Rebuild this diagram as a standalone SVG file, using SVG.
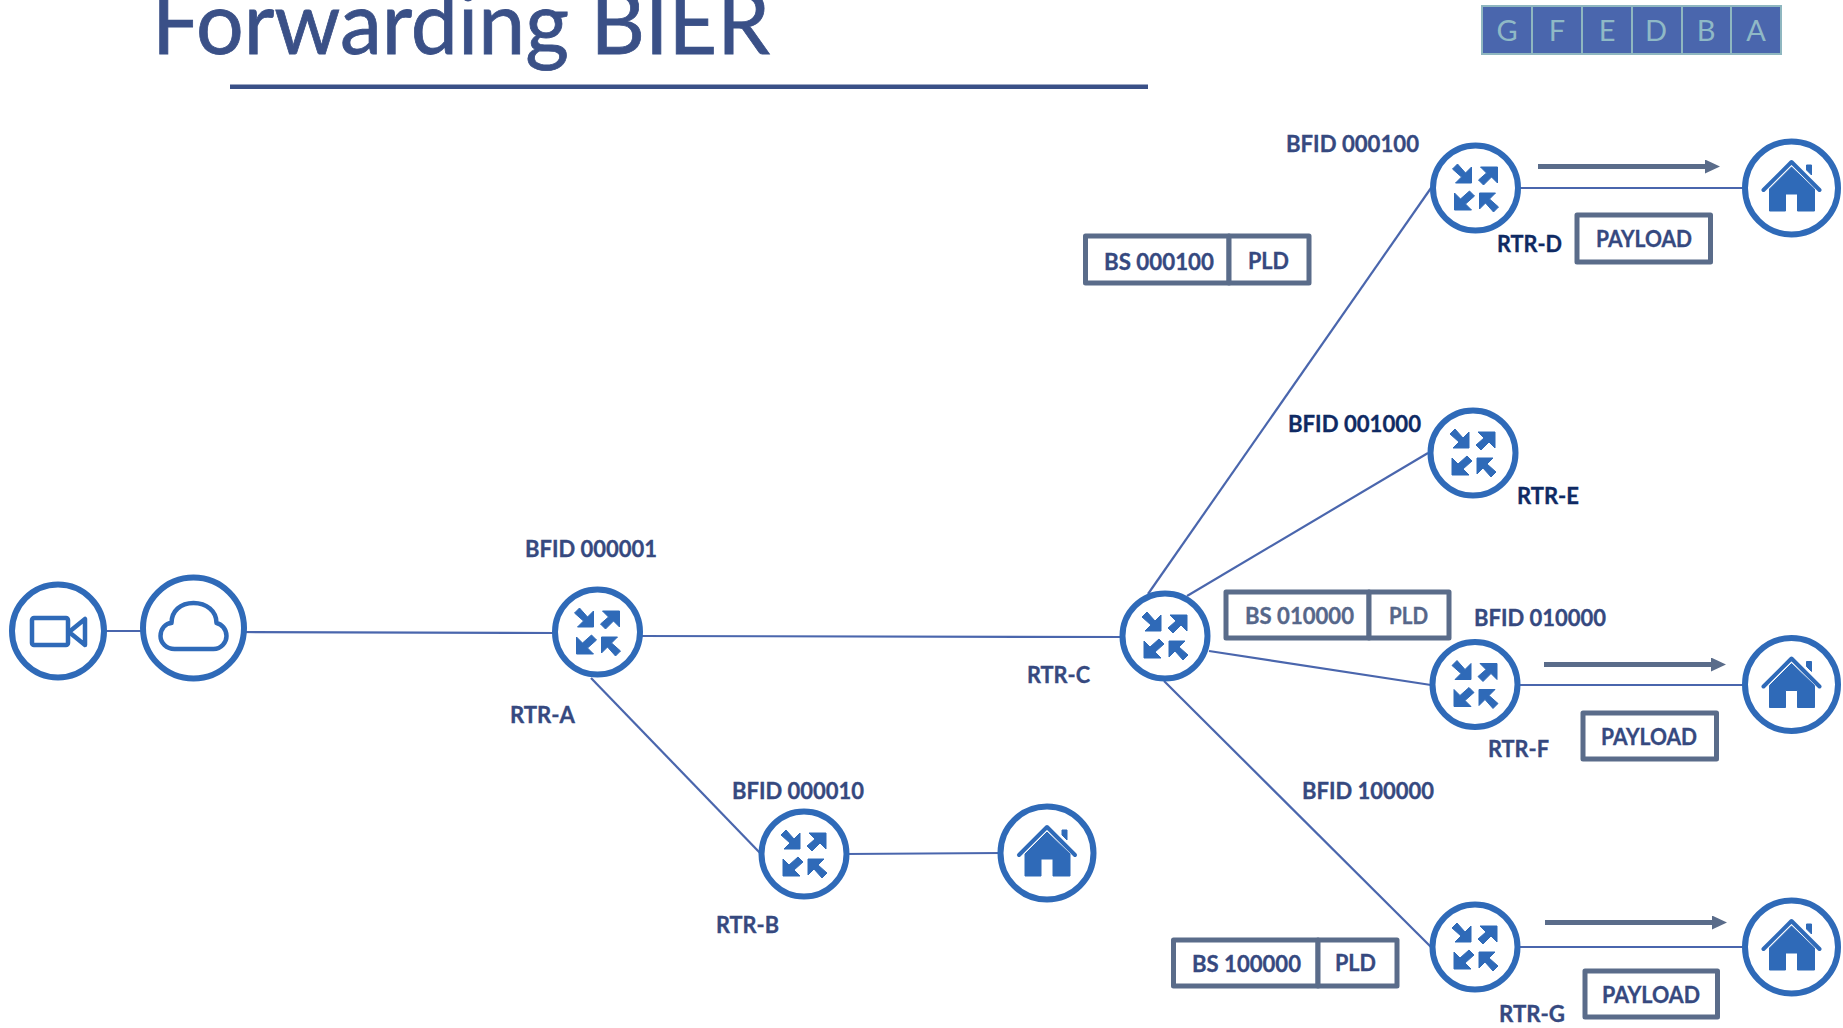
<svg xmlns="http://www.w3.org/2000/svg" xmlns:xlink="http://www.w3.org/1999/xlink" width="1843" height="1028" viewBox="0 0 1843 1028">
<style>
text{font-family:Lato,"Open Sans","Liberation Sans",sans-serif}
.ring{fill:#fff;stroke:#2f6ab8;stroke-width:6}
.ic{fill:#2f6ab8;stroke:#2f6ab8;stroke-width:1;stroke-linejoin:round}
.ol{fill:none;stroke:#2f6ab8;stroke-width:4.500;stroke-linejoin:round}
.link{stroke:#4a66ad;stroke-width:2.200;fill:none}
.lb{font-size:23px;font-weight:700;fill:#36497f;stroke:#36497f;stroke-width:.35;text-anchor:start}
.dk{fill:#0f2a63;stroke:#0f2a63}
.box{fill:#fff;stroke:#5a6c8a;stroke-width:5;stroke-linejoin:round}
.gr{fill:#56678a;stroke:#56678a}
.cell{fill:#4a66ad;stroke:#8fb7c0;stroke-width:2}
.ct{font-size:29px;fill:#8fb9c6;text-anchor:middle}
.flow{stroke:#5a6c8a;stroke-width:5;fill:none;marker-end:url(#ah)}
</style>
<defs>
<marker id="ah" markerUnits="userSpaceOnUse" markerWidth="15" markerHeight="15" refX="0" refY="7" orient="auto"><path d="M0 0L15 7L0 14Z" fill="#5a6c8a"/></marker>
<g id="rt">
<path class="ic" d="M-4 -5H-20L-14 -11L-23 -19L-18 -24L-10 -15L-4 -21Z"/>
<path class="ic" d="M22 -21H5L11 -15L3 -8L8 -3L16 -11L22 -5Z"/>
<path class="ic" d="M-21 22H-4L-10 16L-1 8L-6 3L-15 11L-21 5Z"/>
<path class="ic" d="M4 5H20L14 11L23 19L18 24L10 15L4 21Z"/>
</g>
<g id="hm">
<path class="ic" d="M0 -21L-22 1V23H-6V6H6V23H23V1Z"/>
<path d="M-28 2L0 -26L28 2" fill="none" stroke="#2f6ab8" stroke-width="4" stroke-linecap="round" stroke-linejoin="round"/>
<path class="ic" d="M15 -23H20V-13L15 -18Z"/>
</g>
</defs>

<g id="title">
<text x="152" y="54" font-size="87" fill="#3a5087" stroke="#3a5087" stroke-width=".8" textLength="618" lengthAdjust="spacingAndGlyphs">Forwarding BIER</text>
<rect x="230" y="84.500" width="918" height="4.500" fill="#3a5087"/>
</g>

<g id="bit-header">
<rect class="cell" x="1482" y="6" width="50" height="48"/><rect class="cell" x="1532" y="6" width="50" height="48"/><rect class="cell" x="1582" y="6" width="50" height="48"/><rect class="cell" x="1632" y="6" width="50" height="48"/><rect class="cell" x="1682" y="6" width="49" height="48"/><rect class="cell" x="1731" y="6" width="50" height="48"/>
<text class="ct" x="1507" y="41">G</text><text class="ct" x="1557" y="41">F</text><text class="ct" x="1607" y="41">E</text><text class="ct" x="1656" y="41">D</text><text class="ct" x="1706" y="41">B</text><text class="ct" x="1756" y="41">A</text>
</g>

<g id="connectors">
<line class="link" x1="100" y1="631" x2="145" y2="631"/>
<line class="link" x1="240" y1="632" x2="555" y2="633"/>
<line class="link" x1="640" y1="636" x2="1125" y2="637"/>
<line class="link" x1="591" y1="678" x2="761" y2="854"/>
<line class="link" x1="845" y1="854" x2="1002" y2="853"/>
<line class="link" x1="1148" y1="594" x2="1431" y2="188"/>
<line class="link" x1="1187" y1="596" x2="1428" y2="453"/>
<line class="link" x1="1209" y1="651" x2="1431" y2="685"/>
<line class="link" x1="1164" y1="681" x2="1431" y2="947"/>
<line class="link" x1="1518" y1="188" x2="1745" y2="188"/>
<line class="link" x1="1518" y1="685" x2="1745" y2="685"/>
<line class="link" x1="1518" y1="947" x2="1745" y2="947"/>
<line class="flow" x1="1538" y1="166.500" x2="1705" y2="166.500"/>
<line class="flow" x1="1544" y1="664.500" x2="1711" y2="664.500"/>
<line class="flow" x1="1545" y1="922.500" x2="1712" y2="922.500"/>
</g>

<g id="camera"><ellipse class="ring" cx="58" cy="631" rx="46" ry="46.500"/>
<g transform="translate(58,631)"><rect class="ol" x="-26" y="-13" width="36" height="27" rx="2"/><path class="ol" d="M11 1L27 -12V14Z"/></g></g>
<g id="cloud"><ellipse class="ring" cx="193.500" cy="628" rx="50.500" ry="50.500"/>
<path class="ol" transform="translate(193.500,628)" d="M-19 21H20C28 21 33 14 33 8C33 1 28 -4 23 -5C23 -17 13 -25 0 -25C-13 -25 -22 -17 -22 -5C-28 -5 -33 1 -33 8C-33 15 -27 21 -19 21Z"/></g>

<g id="rtr-a"><circle class="ring" cx="597.500" cy="632" r="42.500"/><use href="#rt" x="597.500" y="632"/>
<text class="lb" x="525" y="557" textLength="132" lengthAdjust="spacingAndGlyphs">BFID 000001</text>
<text class="lb" x="510" y="723" textLength="65" lengthAdjust="spacingAndGlyphs">RTR-A</text></g>
<g id="rtr-b"><circle class="ring" cx="804" cy="854" r="42.500"/><use href="#rt" x="804" y="854"/>
<text class="lb" x="732" y="799" textLength="132" lengthAdjust="spacingAndGlyphs">BFID 000010</text>
<text class="lb" x="716" y="933" textLength="63" lengthAdjust="spacingAndGlyphs">RTR-B</text></g>
<g id="home-b"><circle class="ring" cx="1047" cy="853" r="46.500"/><use href="#hm" x="1047" y="853"/></g>
<g id="rtr-c"><circle class="ring" cx="1165" cy="636" r="42.500"/><use href="#rt" x="1165" y="636"/>
<text class="lb" x="1027" y="683" textLength="63" lengthAdjust="spacingAndGlyphs">RTR-C</text></g>
<g id="rtr-d"><circle class="ring" cx="1475.500" cy="188" r="42.500"/><use href="#rt" x="1475.500" y="188"/>
<text class="lb" x="1286" y="152" textLength="133" lengthAdjust="spacingAndGlyphs">BFID 000100</text>
<text class="lb dk" x="1497" y="252" textLength="65" lengthAdjust="spacingAndGlyphs">RTR-D</text></g>
<g id="home-d"><circle class="ring" cx="1791.500" cy="188" r="46.500"/><use href="#hm" x="1791.500" y="188"/></g>
<g id="rtr-e"><circle class="ring" cx="1473" cy="453" r="42.500"/><use href="#rt" x="1473" y="453"/>
<text class="lb dk" x="1288" y="432" textLength="133" lengthAdjust="spacingAndGlyphs">BFID 001000</text>
<text class="lb dk" x="1517" y="504" textLength="62" lengthAdjust="spacingAndGlyphs">RTR-E</text></g>
<g id="rtr-f"><circle class="ring" cx="1475" cy="684.500" r="42.500"/><use href="#rt" x="1475" y="684.500"/>
<text class="lb" x="1474" y="626" textLength="132" lengthAdjust="spacingAndGlyphs">BFID 010000</text>
<text class="lb" x="1488" y="757" textLength="61" lengthAdjust="spacingAndGlyphs">RTR-F</text></g>
<g id="home-f"><circle class="ring" cx="1791.500" cy="684.500" r="46.500"/><use href="#hm" x="1791.500" y="684.500"/></g>
<g id="rtr-g"><circle class="ring" cx="1475" cy="947" r="42.500"/><use href="#rt" x="1475" y="947"/>
<text class="lb" x="1302" y="799" textLength="132" lengthAdjust="spacingAndGlyphs">BFID 100000</text>
<text class="lb" x="1499" y="1022" textLength="66" lengthAdjust="spacingAndGlyphs">RTR-G</text></g>
<g id="home-g"><circle class="ring" cx="1791.500" cy="947" r="46.500"/><use href="#hm" x="1791.500" y="947"/></g>

<g id="packet-d"><rect class="box" x="1085.500" y="236" width="143.500" height="47"/><rect class="box" x="1229" y="236" width="80" height="47"/>
<text class="lb" x="1104" y="270" textLength="110" lengthAdjust="spacingAndGlyphs">BS 000100</text><text class="lb" x="1248" y="269" textLength="41" lengthAdjust="spacingAndGlyphs">PLD</text></g>
<g id="packet-f"><rect class="box" x="1226" y="592" width="143" height="46"/><rect class="box" x="1369" y="592" width="80" height="46"/>
<text class="lb gr" x="1245" y="624" textLength="109" lengthAdjust="spacingAndGlyphs">BS 010000</text><text class="lb gr" x="1389" y="624" textLength="39" lengthAdjust="spacingAndGlyphs">PLD</text></g>
<g id="packet-g"><rect class="box" x="1173.500" y="940" width="144.500" height="46"/><rect class="box" x="1318" y="940" width="79" height="46"/>
<text class="lb" x="1192" y="972" textLength="109" lengthAdjust="spacingAndGlyphs">BS 100000</text><text class="lb" x="1335" y="971" textLength="41" lengthAdjust="spacingAndGlyphs">PLD</text></g>
<g id="payload-d"><rect class="box" x="1577" y="215" width="133.500" height="47"/><text class="lb" x="1596" y="247" textLength="96" lengthAdjust="spacingAndGlyphs">PAYLOAD</text></g>
<g id="payload-f"><rect class="box" x="1583" y="713" width="133.500" height="46"/><text class="lb" x="1601" y="745" textLength="96" lengthAdjust="spacingAndGlyphs">PAYLOAD</text></g>
<g id="payload-g"><rect class="box" x="1585" y="971" width="132.500" height="46"/><text class="lb" x="1602" y="1003" textLength="98" lengthAdjust="spacingAndGlyphs">PAYLOAD</text></g>
</svg>
